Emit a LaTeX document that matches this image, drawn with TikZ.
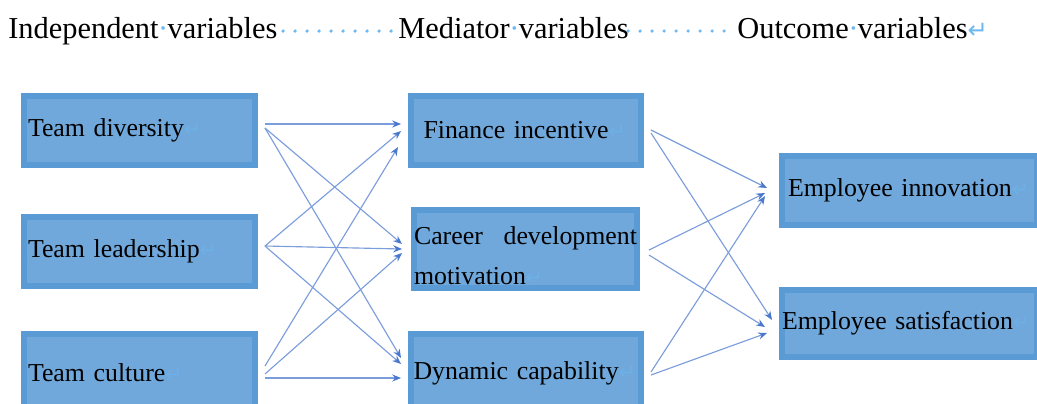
\documentclass[tikz,border=0pt]{standalone}
\usepackage{fontspec}
\setmainfont{Liberation Serif}
\newfontfamily\symfont{DejaVu Sans}
\usepackage{tikz}
\usetikzlibrary{arrows.meta,calc}
\definecolor{boxdark}{HTML}{5B9BD5}
\definecolor{boxlight}{HTML}{70A8DC}
\definecolor{linkblue}{HTML}{7C9DDC}
\definecolor{tipblue}{HTML}{4A78CC}
\definecolor{markblue}{HTML}{6CB8F2}
\newcommand{\boxfont}{\fontsize{14.7}{23.2}\selectfont}
\newcommand{\headfont}{\fontsize{17.3}{20}\selectfont}
\newcommand{\wsp}{\hbox to 0.3em{\hss\textcolor{markblue}{·}\hss}}
\newcommand{\parmark}{{\color{markblue}\symfont\scalebox{0.8}{↵}}}
\newcommand{\boxmark}{{\color{markblue!45!boxlight}\symfont\scalebox{0.8}{↵}}}
\tikzset{
	head/.style={anchor=base west,inner sep=0pt,font=\headfont},
	varbox/.style={draw=boxdark,fill=boxlight,line width=0.12cm,minimum width=4.62cm,minimum height=1.38cm,align=left,font=\boxfont},
	link/.style={draw=linkblue,line width=0.65pt,-{Stealth[length=5pt,width=4pt,color=tipblue]}}
}

\begin{document}
\begin{tikzpicture}[x=0.02cm,y=-0.02cm]
	\useasboundingbox (0,0) rectangle (1037,403);

	\node[head] (hind) at (8,38) {Independent\wsp variables};
	\node[head] (hmed) at (398,38) {Mediator\wsp variables};
	\node[head] (hout) at (737,38) {Outcome\wsp variables\parmark};
	\foreach \x in {283,295,...,391} \fill[markblue] (\x,31) circle (1pt);
	\foreach \x in {628,640,...,724} \fill[markblue] (\x,31) circle (1pt);

	\node[varbox,text width=4.46cm,inner xsep=0.08cm] (div) at (139.5,130.5) {Team diversity\boxmark};
	\node[varbox,text width=4.46cm,inner xsep=0.08cm] (lead) at (139.5,251.5) {Team leadership\boxmark};
	\node[varbox,text width=4.46cm,inner xsep=0.08cm,minimum height=1.56cm] (cult) at (139.5,373) {Team culture\boxmark};

	\node[varbox,text width=4.10cm,inner xsep=0.26cm] (fin) at (526,130.5) {Finance incentive\boxmark};
	\node[varbox,minimum width=4.46cm,minimum height=1.56cm,text width=4.46cm,inner xsep=0cm,text height=0.51cm,text depth=0.71cm,align=justify] (car) at (525.5,249) {Career development\linebreak motivation\boxmark};
	\node[varbox,text width=4.50cm,inner xsep=0.06cm,minimum height=1.56cm] (dyn) at (526,373) {Dynamic capability\boxmark};

	\node[varbox,minimum width=5.1cm,text width=4.86cm,inner xsep=0.12cm] (inn) at (909.5,190.5) {Employee innovation\boxmark};
	\node[varbox,minimum width=5.1cm,minimum height=1.34cm,text width=5.1cm,inner xsep=0cm] (sat) at (909.5,323.5) {Employee satisfaction\boxmark};

	\draw[link] ($(div.east)+(7,-6.5)$) -- ($(fin.west)+(-6.5,-6.5)$);
	\draw[link] ($(div.east)+(7,-2.5)$) -- ($(car.west)+(-9,-5)$);
	\draw[link] ($(div.east)+(7,-2.5)$) -- ($(dyn.west)+(-6.5,-15)$);
	\draw[link] ($(lead.east)+(7,-5.5)$) -- ($(fin.west)+(-6.5,0.5)$);
	\draw[link] ($(lead.east)+(7,-5.5)$) -- ($(car.west)+(-9,0)$);
	\draw[link] ($(lead.east)+(7,-5.5)$) -- ($(dyn.west)+(-6.5,-9)$);
	\draw[link] ($(cult.east)+(7,-7)$) -- ($(fin.west)+(-9.5,16.5)$);
	\draw[link] ($(cult.east)+(7,1)$) -- ($(car.west)+(-9,4)$);
	\draw[link] ($(cult.east)+(7,5)$) -- ($(dyn.west)+(-6.5,5)$);

	\draw[link] ($(fin.east)+(6.5,-0.5)$) -- ($(inn.west)+(-12,-2.5)$);
	\draw[link] ($(fin.east)+(6.5,2.5)$) -- ($(sat.west)+(-7,-3.5)$);
	\draw[link] ($(car.east)+(9,1)$) -- ($(inn.west)+(-14,2.5)$);
	\draw[link] ($(car.east)+(9,6)$) -- ($(sat.west)+(-14,3.5)$);
	\draw[link] ($(dyn.east)+(6.5,-1)$) -- ($(inn.west)+(-14,5.5)$);
	\draw[link] ($(dyn.east)+(6.5,2)$) -- ($(sat.west)+(-12,9.5)$);
\end{tikzpicture}
\end{document}
